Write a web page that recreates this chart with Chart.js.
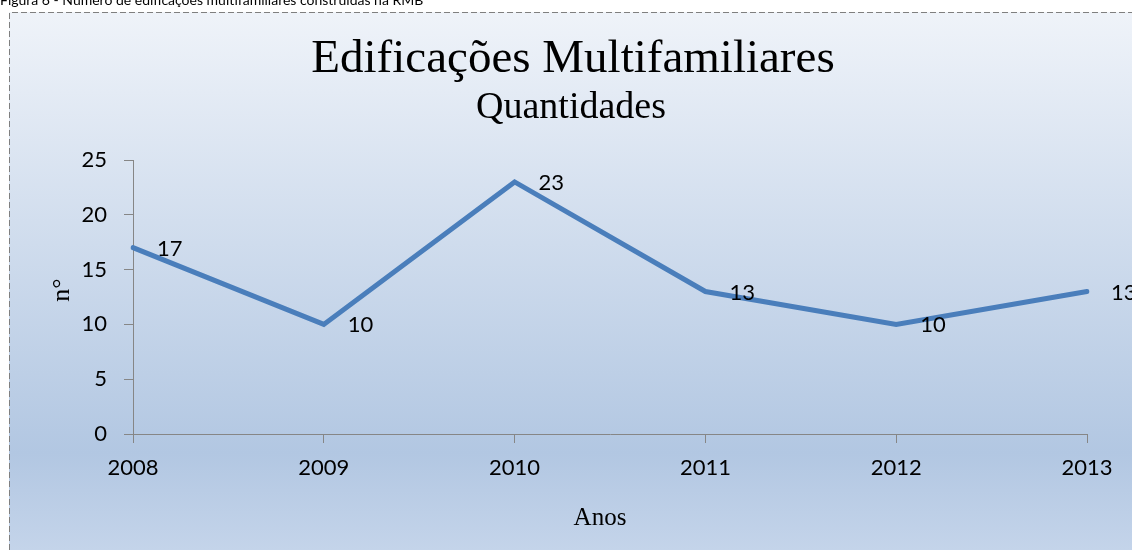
<!DOCTYPE html>
<html>
<head>
<meta charset="utf-8">
<script src="https://cdn.jsdelivr.net/npm/chart.js@4"></script>
<style>
  html, body { margin: 0; padding: 0; background: #fff; overflow: hidden; }
  #wrap { position: relative; width: 1132px; height: 550px; }
  #caption {
    position: absolute; left: 0; top: -10px; white-space: nowrap;
    font: 14px Lato, sans-serif; line-height: 20px; color: #000;
  }
  canvas { position: absolute; left: 0; top: 0; }
</style>
</head>
<body>
<div id="wrap">
  <canvas id="grafico" width="1132" height="550"></canvas>
  <div id="caption">Figura 6 - Número de edificações multifamiliares construídas na RMB</div>
</div>
<script>
  // dados
  const anos = ['2008', '2009', '2010', '2011', '2012', '2013'];
  const quantidades = [17, 10, 23, 13, 10, 13];
  const yTicks = [0, 5, 10, 15, 20, 25];

  const tituloPrincipal = 'Edificações Multifamiliares';
  const subtitulo = 'Quantidades';
  const tituloX = 'Anos';
  const tituloY = 'n°';

  const serif = '"Liberation Serif", "Times New Roman", serif';
  const sans = 'Lato, "Open Sans", sans-serif';
  const cinza = '#868686';

  // fundo, borda tracejada, titulos e rotulos
  const decor = {
    id: 'decor',
    beforeDraw(chart) {
      const { ctx, width, height } = chart;
      ctx.save();
      const g = ctx.createLinearGradient(0, 12, 0, height);
      g.addColorStop(0, '#eff3f9');
      g.addColorStop(0.82, '#b2c7e2');
      g.addColorStop(1, '#c4d4ea');
      ctx.fillStyle = g;
      ctx.fillRect(9, 12, width - 9, height - 12);
      ctx.strokeStyle = '#7f7f7f';
      ctx.lineWidth = 1;
      ctx.setLineDash([6, 3]);
      ctx.beginPath();
      ctx.moveTo(9.5, height);
      ctx.lineTo(9.5, 12.5);
      ctx.lineTo(width, 12.5);
      ctx.stroke();
      ctx.restore();
    },
    afterDatasetsDraw(chart) {
      const { ctx } = chart;
      const meta = chart.getDatasetMeta(0);
      ctx.save();
      ctx.font = '22px ' + sans;
      ctx.fillStyle = '#000';
      ctx.textAlign = 'left';
      ctx.textBaseline = 'middle';
      meta.data.forEach(function (pt, i) {
        ctx.fillText(String(quantidades[i]), pt.x + 24, pt.y + 1);
      });
      ctx.restore();
    },
    afterDraw(chart) {
      const { ctx } = chart;
      ctx.save();
      ctx.fillStyle = '#000';
      ctx.textAlign = 'center';
      ctx.textBaseline = 'alphabetic';
      ctx.font = '47px ' + serif;
      ctx.fillText(tituloPrincipal, 573, 72);
      ctx.font = '38px ' + serif;
      ctx.fillText(subtitulo, 571, 118);
      ctx.textBaseline = 'middle';
      ctx.font = '25px ' + serif;
      ctx.fillText(tituloX, 600, 518);
      ctx.translate(62, 290);
      ctx.rotate(-Math.PI / 2);
      ctx.font = '26px ' + serif;
      ctx.fillText(tituloY, 0, 0);
      ctx.restore();
    }
  };

  const canvas = document.getElementById('grafico');
  new Chart(canvas.getContext('2d'), {
    type: 'line',
    data: {
      labels: anos,
      datasets: [{
        label: 'Quantidades',
        data: quantidades,
        borderColor: '#4a7ebb',
        borderWidth: 5,
        borderCapStyle: 'round',
        pointRadius: 0,
        tension: 0,
        fill: false
      }]
    },
    options: {
      responsive: false,
      animation: false,
      layout: { padding: { left: 0, right: 45, top: 160, bottom: 0 } },
      plugins: {
        legend: { display: false },
        title: { display: false },
        tooltip: { enabled: false }
      },
      scales: {
        x: {
          offset: false,
          afterFit: function (s) { s.height = 116; },
          grid: { drawOnChartArea: false, drawTicks: true, tickLength: 9, color: cinza },
          border: { color: cinza, width: 1 },
          ticks: { color: '#000', font: { family: sans, size: 22 }, padding: 12, maxRotation: 0 }
        },
        y: {
          min: 0,
          max: 25,
          afterFit: function (s) { s.width = 133; },
          afterBuildTicks: function (s) { s.ticks = yTicks.map(v => ({ value: v })); },
          grid: { drawOnChartArea: false, drawTicks: true, tickLength: 9, color: cinza },
          border: { color: cinza, width: 1 },
          ticks: { color: '#000', font: { family: sans, size: 22 }, padding: 17 }
        }
      }
    },
    plugins: [decor]
  });
</script>
</body>
</html>
